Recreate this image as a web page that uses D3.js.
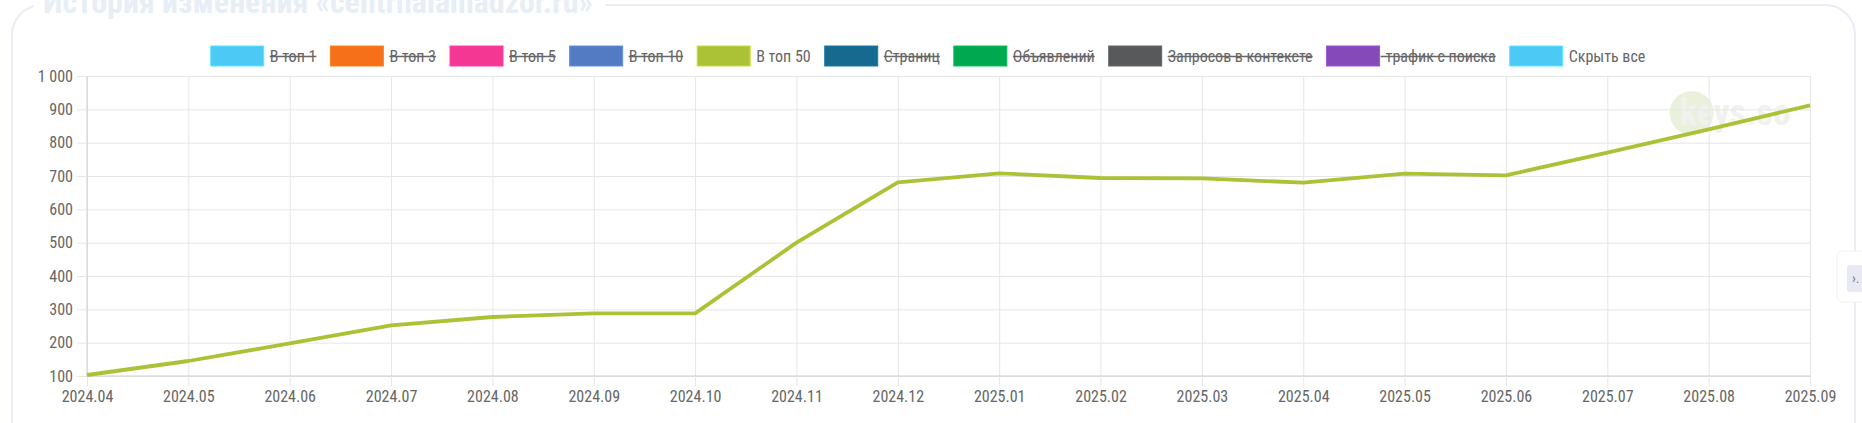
<!DOCTYPE html>
<html>
<head>
<meta charset="utf-8">
<script src="https://cdn.jsdelivr.net/npm/d3@7"></script>
<style>
  html, body { margin: 0; padding: 0; background: #fff; }
  svg { display: block; }
  text { font-family: 'Liberation Sans Narrow', 'Roboto Condensed', 'Liberation Sans', Arial, sans-serif; }
</style>
</head>
<body>
<svg id="chart" width="1862" height="423"></svg>
<script>
const categories = ["2024.04","2024.05","2024.06","2024.07","2024.08","2024.09","2024.10","2024.11","2024.12",
  "2025.01","2025.02","2025.03","2025.04","2025.05","2025.06","2025.07","2025.08","2025.09"];
const top50Values = [103,145,198,252,277,288,288,500,681,708,694,693,680,707,702,770,840,912];
const yTickValues = [100,200,300,400,500,600,700,800,900,1000];
const legendLabels = ["В топ 1","В топ 3","В топ 5","В топ 10","В топ 50","Страниц","Объявлений","Запросов в контексте","трафик с поиска","Скрыть все"];
const legendColors = ["#4dc9f6","#f67019","#f53794","#537bc4","#acc236","#166a8f","#00a950","#58595b","#8549ba","#4dc9f6"];
const legendHidden = [true,true,true,true,false,true,true,true,true,false];
const titleText = "История изменения «centrnalamadzor.ru»";

const W = 1862, H = 423;
const svg = d3.select("#chart");
const margin = {left: 87, right: 52, top: 76, bottom: 47};
const pw = W - margin.left - margin.right, ph = H - margin.top - margin.bottom;

// card
svg.append("rect").attr("x", 12).attr("y", 5).attr("width", 1843).attr("height", 470)
  .attr("rx", 30).attr("fill", "#fff").attr("stroke", "#e9eef4").attr("stroke-width", 2);
const titleBg = svg.append("rect").attr("fill", "#fff");
const title = svg.append("text").attr("x", 43).attr("y", 13).text(titleText)
  .attr("font-size", 32).attr("font-weight", "bold").attr("fill", "#e8eef6");
const tw = title.node().getComputedTextLength();
titleBg.attr("x", 34).attr("y", 0).attr("width", tw + 22).attr("height", 12);

// right side button
svg.append("rect").attr("x", 1837).attr("y", 251).attr("width", 40).attr("height", 51).attr("rx", 6)
  .attr("fill", "#fff").attr("stroke", "#f0f0f4").attr("stroke-width", 1);
svg.append("rect").attr("x", 1847).attr("y", 265).attr("width", 30).attr("height", 27).attr("rx", 3)
  .attr("fill", "#e9e9f3");
svg.append("text").attr("x", 1852).attr("y", 283).text("›.").attr("font-size", 14).attr("fill", "#777");

const x = d3.scalePoint().domain(categories).range([0, pw]);
const y = d3.scaleLinear().domain([100, 1000]).range([ph, 0]);
const fmt = d3.formatLocale({decimal: ".", thousands: " ", grouping: [3], currency: ["", ""]}).format(",d");

const g = svg.append("g").attr("transform", `translate(${margin.left},${margin.top})`);

// watermark
const wm = g.append("g");
wm.append("circle").attr("cx", x("2025.08") - 17).attr("cy", y(889)).attr("r", 22).attr("fill", "#e9f1dc");
wm.append("text").attr("x", x("2025.08") - 29).attr("y", y(889) + 12).text("keys.so")
  .attr("font-size", 36).attr("font-weight", "bold").attr("fill", "#eff2ee");

// grids
g.append("g").attr("class", "ygrid")
  .call(d3.axisLeft(y).tickValues(yTickValues).tickSize(-pw).tickFormat(""))
  .call(s => { s.select(".domain").remove(); s.selectAll("line").attr("stroke", "#e6e6e6"); });
g.append("g").attr("class", "xgrid")
  .call(d3.axisBottom(x).tickSize(-ph).tickFormat(""))
  .attr("transform", `translate(0,${ph})`)
  .call(s => { s.select(".domain").remove(); s.selectAll("line").attr("stroke", "#e6e6e6"); });

// axes with ticks
const ya = g.append("g")
  .call(d3.axisLeft(y).tickValues(yTickValues).tickSize(10).tickPadding(4).tickFormat(fmt));
ya.select(".domain").attr("stroke", "#cfcfcf").attr("d", `M0,0V${ph}`);
ya.selectAll("line").attr("stroke", "#e6e6e6");
ya.selectAll("text").attr("font-size", 16).attr("fill", "#666");

const xa = g.append("g").attr("transform", `translate(0,${ph})`)
  .call(d3.axisBottom(x).tickSize(10).tickPadding(5));
xa.select(".domain").attr("stroke", "#cfcfcf").attr("d", `M0,0H${pw}`);
xa.selectAll("line").attr("stroke", "#e6e6e6");
xa.selectAll("text").attr("font-size", 16).attr("fill", "#666");

// line
g.append("path").datum(top50Values.map((v, i) => [categories[i], v]))
  .attr("fill", "none").attr("stroke", "#acc236").attr("stroke-width", 3.8)
  .attr("stroke-linejoin", "round").attr("stroke-linecap", "butt")
  .attr("d", d3.line().x(d => x(d[0])).y(d => y(d[1])));

// legend
const lg = svg.append("g");
const boxW = 53, boxH = 20, gapT = 6, gapItem = 14, ly = 46;
let cx = 0;
legendLabels.forEach((lab, i) => {
  const it = lg.append("g");
  it.append("rect").attr("x", 0).attr("y", 0).attr("width", boxW).attr("height", boxH)
    .attr("fill", legendColors[i]).attr("stroke", d3.color(legendColors[i]).brighter(0.4)).attr("stroke-width", 1);
  const t = it.append("text").attr("x", boxW + gapT).attr("y", boxH / 2 + 5.5).text(lab)
    .attr("font-size", 16).attr("fill", "#666");
  const w = t.node().getComputedTextLength();
  if (legendHidden[i]) {
    const extra = lab === "трафик с поиска" ? 5 : 0;
    it.append("line").attr("x1", boxW + gapT - extra).attr("x2", boxW + gapT + w)
      .attr("y1", boxH / 2 + 0.5).attr("y2", boxH / 2 + 0.5).attr("stroke", "#666").attr("stroke-width", 1.6);
  }
  it.attr("transform", `translate(${cx},${ly})`);
  cx += boxW + gapT + w + gapItem;
});
const total = cx - gapItem;
lg.attr("transform", `translate(${928 - total / 2},0)`);
</script>
</body>
</html>
